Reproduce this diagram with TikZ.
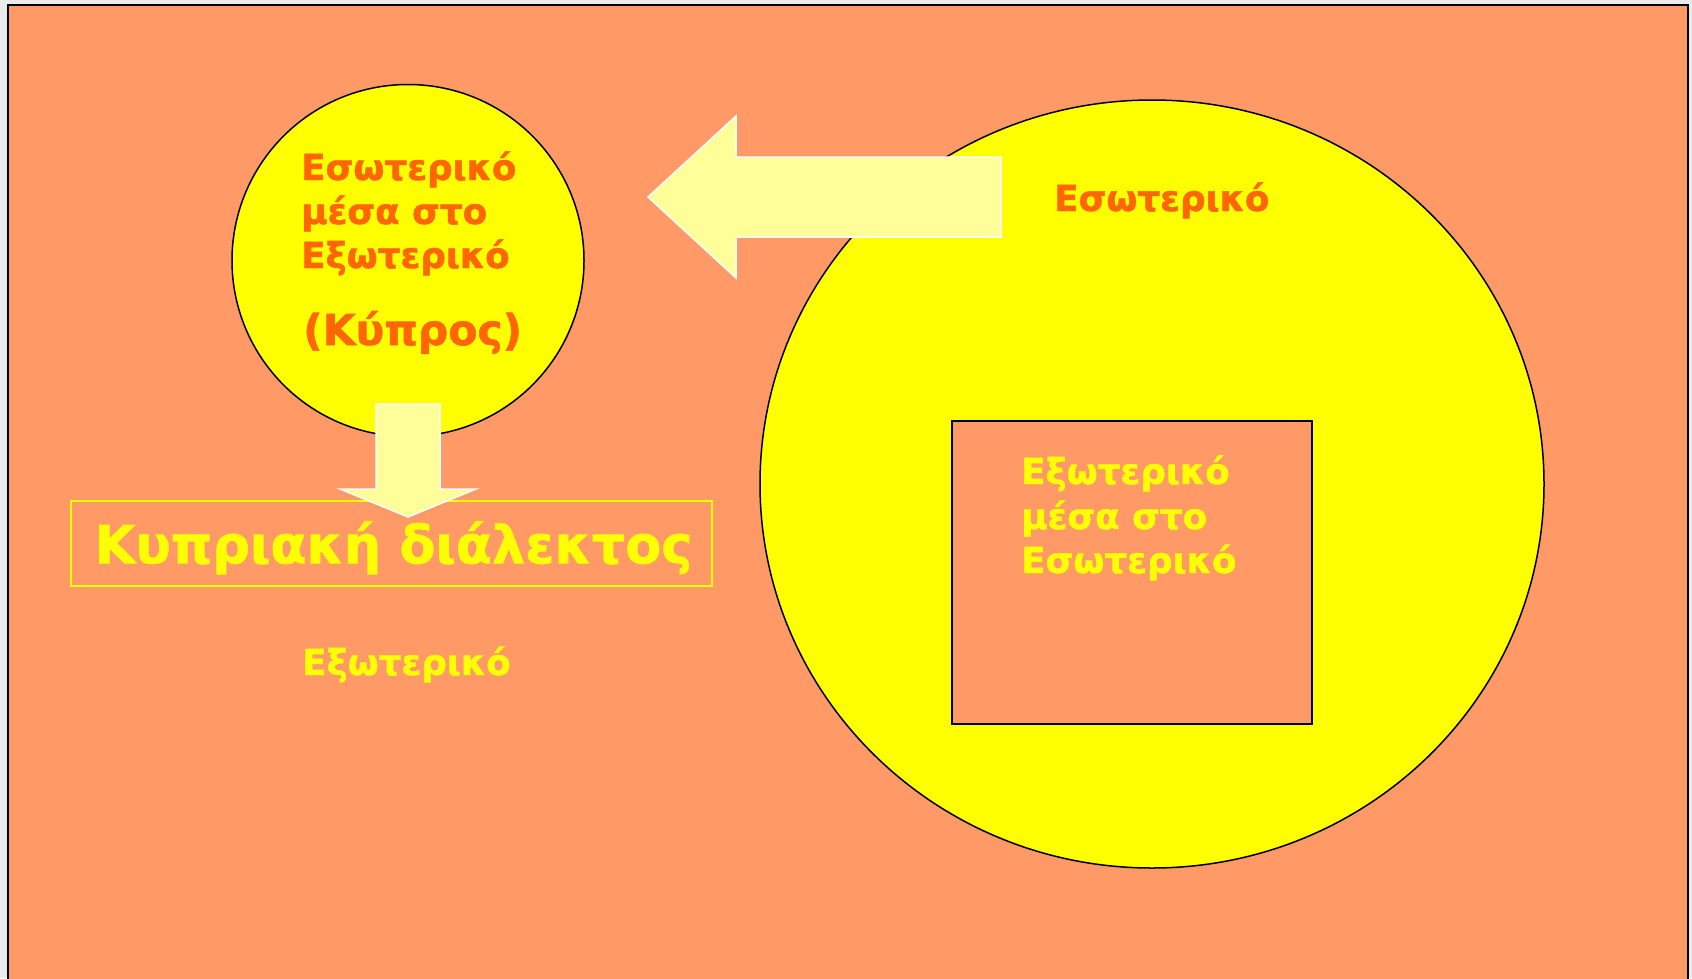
\documentclass[tikz,border=0pt]{standalone}
\usepackage{fontspec}
\setmainfont{DejaVu Sans Bold}[FakeBold=1.3]
\usetikzlibrary{shapes.geometric}
\definecolor{salmon}{RGB}{255,153,102}
\definecolor{pale}{RGB}{255,255,153}
\definecolor{orng}{RGB}{255,102,0}
\definecolor{yel}{RGB}{255,255,0}
\definecolor{bggray}{RGB}{235,235,235}
\begin{document}
\begin{tikzpicture}[x=1pt,y=-1pt,
  txt/.style={anchor=base west, inner sep=0pt, font=\fontsize{35.7}{44}\selectfont},
  bigarrow/.style={fill=pale, draw=white, line width=1.5pt}]
\useasboundingbox (0,0) rectangle (1692,978);
\fill[bggray] (0,0) rectangle (1692,978);
\begin{scope}
\clip (0,0) rectangle (1692,978);
\draw[fill=salmon, line width=2pt] (8,5) rectangle (1688,990);
\end{scope}
% large ellipse
\node[ellipse, draw, fill=yel, line width=1.5pt, minimum width=784pt, minimum height=768pt, inner sep=0pt] (outer) at (1152,484) {};
% square inside
\node[draw, fill=salmon, line width=2pt, minimum width=360pt, minimum height=303pt, inner sep=0pt] (inner) at (1132,572.5) {};
% small circle
\node[circle, draw, fill=yel, line width=1.5pt, minimum size=352pt, inner sep=0pt] (cy) at (408,260.5) {};
% dialect box
\node[draw=yel, line width=1.5pt, minimum width=641pt, minimum height=85pt, inner sep=0pt] (dbox) at (391.5,543.5) {};
% arrows
\draw[bigarrow] (648,197) -- (736,116) -- (736,157) -- (1001,157) -- (1001,237) -- (736,237) -- (736,278) -- cycle;
\draw[bigarrow] (376,404) -- (440,404) -- (440,489) -- (476,489) -- (408,517) -- (340,489) -- (376,489) -- cycle;
% texts
\node[txt, text=orng] (c1) at (301,180) {Εσωτερικό};
\node[txt, text=orng] (c2) at (301,224) {μέσα στο};
\node[txt, text=orng] (c3) at (301,268) {Εξωτερικό};
\node[txt, text=orng, font=\fontsize{42.5}{44}\selectfont] (c4) at (303,345) {(Κύπρος)};
\node[txt, text=orng] (r1) at (1054,211) {Εσωτερικό};
\node[txt, text=yel] (s1) at (1021,484) {Εξωτερικό};
\node[txt, text=yel] (s2) at (1021,529) {μέσα στο};
\node[txt, text=yel] (s3) at (1021,573) {Εσωτερικό};
\node[txt, text=yel] (b1) at (302,675) {Εξωτερικό};
\node[txt, text=yel, font=\fontsize{52.5}{60}\selectfont] (d1) at (94.5,563.3) {Κυπριακή διάλεκτος};
\end{tikzpicture}
\end{document}
